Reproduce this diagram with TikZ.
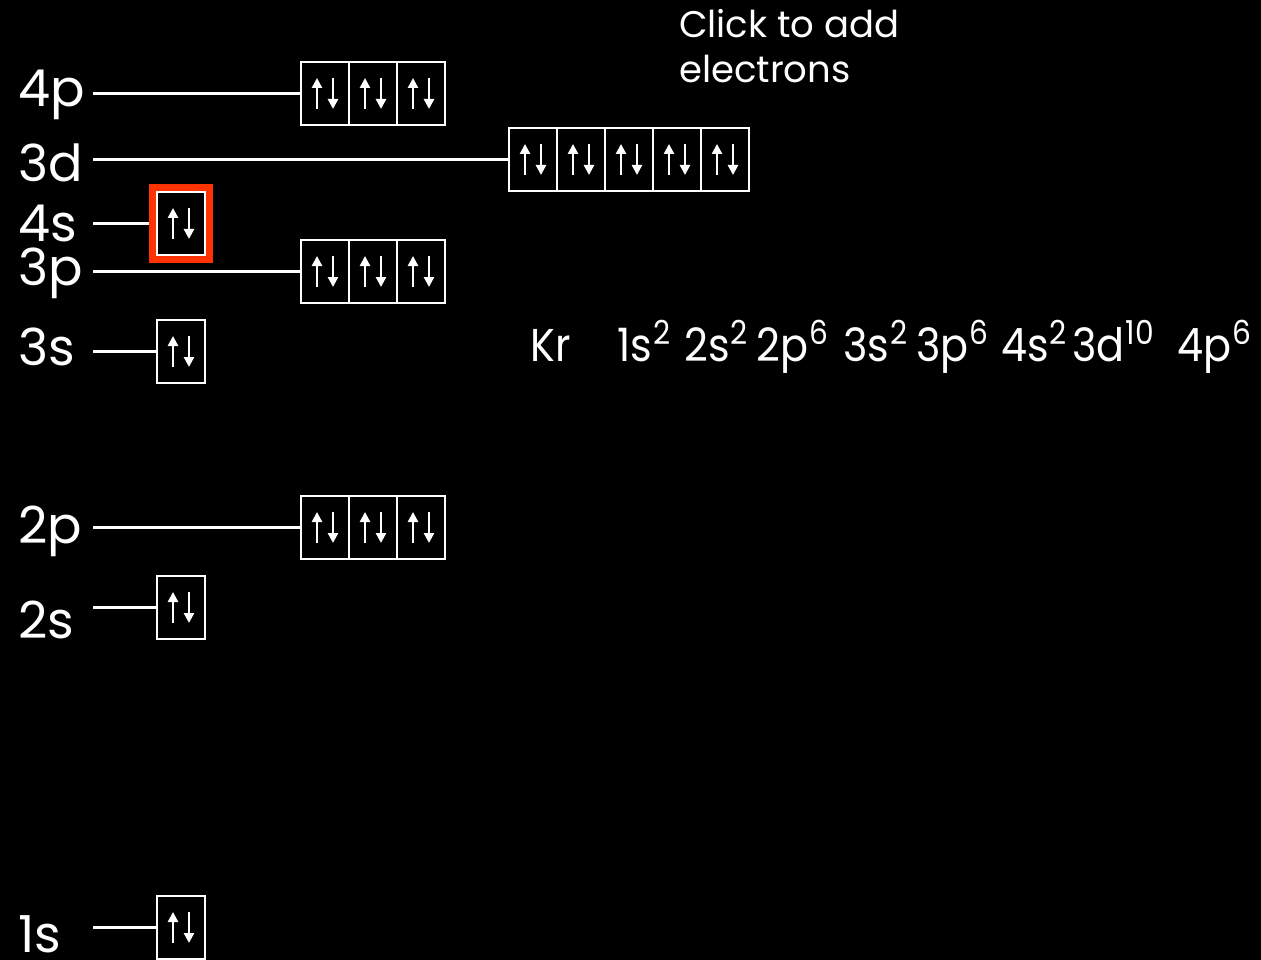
\documentclass[tikz,border=0pt]{standalone}
\usepackage{fontspec}
\setmainfont{Poppins}
\usetikzlibrary{arrows.meta}
\definecolor{hilite}{RGB}{255,51,0}
\newcommand\orbrow[4]{% name, x, ytop, n
  \foreach \i in {1,...,#4}{%
    \node[orb] (#1\i) at ({#2+48*(\i-1)},#3) {};
    \draw[spin] ([xshift=-8pt,yshift=16pt]#1\i.south) -- ([xshift=-8pt,yshift=-16pt]#1\i.north);
    \draw[spin] ([xshift=8pt,yshift=-16pt]#1\i.north) -- ([xshift=8pt,yshift=16pt]#1\i.south);
  }%
}
\newcommand\supr[1]{\hspace{1pt}\raisebox{17pt}{\fontsize{33}{33}\selectfont #1}}
\begin{document}
\begin{tikzpicture}[x=1pt,y=-1pt,
  orb/.style={draw=white,line width=2.5pt,minimum width=48pt,minimum height=63pt,inner sep=0pt,outer sep=0pt,anchor=north west},
  lvl/.style={draw=white,line width=2.5pt},
  spin/.style={white,line width=2.6pt,-{Triangle[length=10pt,width=10pt]}},
  lbl/.style={text=white,font=\fontsize{51}{51}\selectfont,anchor=base west,inner sep=0pt},
  cfg/.style={text=white,font=\addfontfeature{FakeStretch=0.9}\fontsize{46}{46}\selectfont,anchor=base west,inner sep=0pt},
  note/.style={text=white,font=\fontsize{37}{45}\selectfont,anchor=base west,inner sep=0pt}]
\fill[black] (0,0) rectangle (1261,960);
\useasboundingbox (0,0) rectangle (1261,960);

% orbital boxes
\orbrow{p4}{301}{62}{3}
\orbrow{d3}{509}{128}{5}
\orbrow{s4}{157}{192}{1}
\orbrow{p3}{301}{240}{3}
\orbrow{s3}{157}{320}{1}
\orbrow{p2}{301}{496}{3}
\orbrow{s2}{157}{576}{1}
\orbrow{s1}{157}{896}{1}

% level labels
\node[lbl] (l4p) at (18,107) {4p};
\node[lbl] (l3d) at (18,182) {3d};
\node[lbl] (l4s) at (18,242) {4s};
\node[lbl] (l3p) at (18,285) {3p};
\node[lbl] (l3s) at (18,365) {3s};
\node[lbl] (l2p) at (18,543) {2p};
\node[lbl] (l2s) at (18,638) {2s};
\node[lbl] (l1s) at (18,952) {1s};

% level lines
\foreach \n/\y in {p4/93.5,d3/159.5,s4/223.5,p3/271.5,s3/351.5,p2/527.5,s2/607.5,s1/927.5}{
  \coordinate (c\n) at (93,\y);
  \draw[lvl] (c\n) -- (\n1.west);
}

% highlight on 4s
\draw[hilite,line width=7pt] ([shift={(-4.5pt,4.5pt)}]s41.north west) rectangle ([shift={(4.5pt,-4.5pt)}]s41.south east);
\node[orb,fill=none] (s4hl) at (157,192) {};

% configuration
\node[cfg] (kr) at (530,361) {Kr};
\node[cfg] (t1) at (617,361) {1s\supr{2}};
\node[cfg] (t2) at (684,361) {2s\supr{2}};
\node[cfg] (t3) at (756,361) {2p\supr{6}};
\node[cfg] (t4) at (843,361) {3s\supr{2}};
\node[cfg] (t5) at (916,361) {3p\supr{6}};
\node[cfg] (t6) at (1001,361) {4s\supr{2}};
\node[cfg] (t7) at (1072,361) {3d\supr{10}};
\node[cfg] (t8) at (1177,361) {4p\supr{6}};

% note
\node[note] (click1) at (679,38) {Click to add};
\node[note] (click2) at (679,83) {electrons};
\end{tikzpicture}
\end{document}
